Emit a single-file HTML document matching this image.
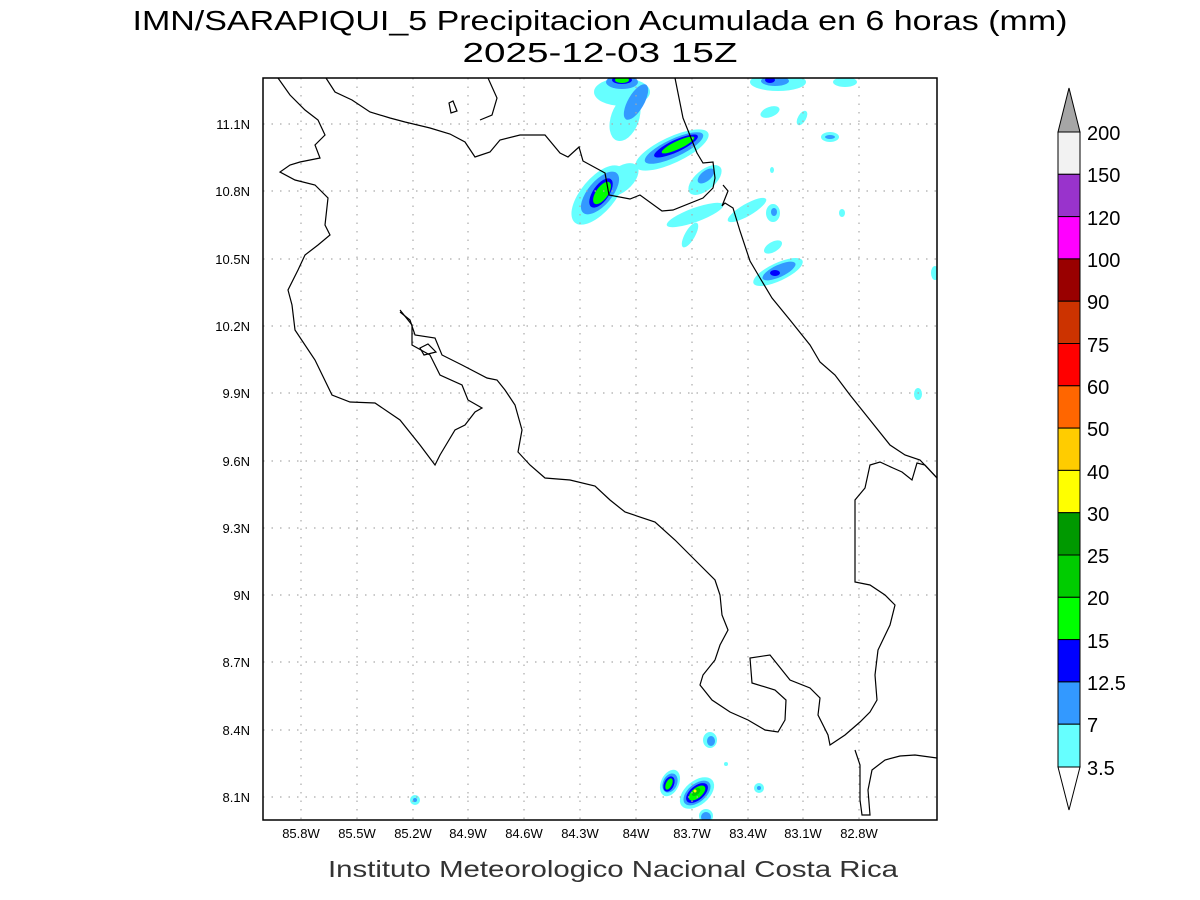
<!DOCTYPE html>
<html><head><meta charset="utf-8"><style>
body{margin:0;background:#fff;}
svg{display:block;font-family:"Liberation Sans",sans-serif;}
</style></head><body>
<svg width="1200" height="900" viewBox="0 0 1200 900" xmlns="http://www.w3.org/2000/svg">
<rect width="1200" height="900" fill="#fff"/>
<text x="600" y="30" font-size="28" text-anchor="middle" fill="#000" textLength="935" lengthAdjust="spacingAndGlyphs">IMN/SARAPIQUI_5 Precipitacion Acumulada en 6 horas (mm)</text>
<text x="600" y="62" font-size="28" text-anchor="middle" fill="#000" textLength="275" lengthAdjust="spacingAndGlyphs">2025-12-03 15Z</text>
<text x="613" y="877" font-size="23" text-anchor="middle" fill="#333" textLength="570" lengthAdjust="spacingAndGlyphs">Instituto Meteorologico Nacional Costa Rica</text>

<clipPath id="c"><rect x="263" y="78" width="674" height="742"/></clipPath>
<g clip-path="url(#c)">
<g>
<ellipse cx="622" cy="92" rx="28" ry="14" fill="#66ffff"/>
<ellipse cx="625" cy="118" rx="14" ry="24" fill="#66ffff" transform="rotate(20 625 118)"/>
<ellipse cx="636" cy="102" rx="8" ry="20" fill="#3399ff" transform="rotate(30 636 102)"/>
<ellipse cx="622" cy="82" rx="16" ry="7" fill="#3399ff"/>
<ellipse cx="622" cy="80" rx="10" ry="4" fill="#0000ff"/>
<ellipse cx="622" cy="80" rx="7" ry="3" fill="#00ff00"/>
<ellipse cx="672" cy="150" rx="40" ry="13" fill="#66ffff" transform="rotate(-25 672 150)"/>
<ellipse cx="674" cy="148" rx="32" ry="9" fill="#3399ff" transform="rotate(-25 674 148)"/>
<ellipse cx="676" cy="146" rx="24" ry="6" fill="#0000ff" transform="rotate(-25 676 146)"/>
<ellipse cx="678" cy="145" rx="18" ry="4" fill="#00ff00" transform="rotate(-25 678 145)"/>
<ellipse cx="598" cy="195" rx="36" ry="17" fill="#66ffff" transform="rotate(-50 598 195)"/>
<ellipse cx="620" cy="180" rx="22" ry="12" fill="#66ffff" transform="rotate(-40 620 180)"/>
<ellipse cx="600" cy="193" rx="26" ry="12" fill="#3399ff" transform="rotate(-50 600 193)"/>
<ellipse cx="601" cy="193" rx="17" ry="8" fill="#0000ff" transform="rotate(-55 601 193)"/>
<ellipse cx="602" cy="193" rx="13" ry="6" fill="#00ff00" transform="rotate(-55 602 193)"/>
<ellipse cx="705" cy="180" rx="20" ry="10" fill="#66ffff" transform="rotate(-40 705 180)"/>
<ellipse cx="706" cy="176" rx="10" ry="5" fill="#3399ff" transform="rotate(-40 706 176)"/>
<ellipse cx="695" cy="215" rx="30" ry="7" fill="#66ffff" transform="rotate(-20 695 215)"/>
<ellipse cx="690" cy="235" rx="14" ry="5" fill="#66ffff" transform="rotate(-60 690 235)"/>
<ellipse cx="747" cy="210" rx="22" ry="6" fill="#66ffff" transform="rotate(-30 747 210)"/>
<ellipse cx="773" cy="213" rx="7" ry="9" fill="#66ffff"/>
<ellipse cx="774" cy="212" rx="3" ry="4" fill="#3399ff"/>
<ellipse cx="773" cy="247" rx="10" ry="5" fill="#66ffff" transform="rotate(-30 773 247)"/>
<ellipse cx="778" cy="272" rx="27" ry="9" fill="#66ffff" transform="rotate(-25 778 272)"/>
<ellipse cx="779" cy="271" rx="18" ry="6" fill="#3399ff" transform="rotate(-25 779 271)"/>
<ellipse cx="775" cy="273" rx="5" ry="3" fill="#0000ff"/>
<ellipse cx="778" cy="82" rx="28" ry="9" fill="#66ffff"/>
<ellipse cx="775" cy="81" rx="14" ry="5" fill="#3399ff"/>
<ellipse cx="770" cy="80" rx="5" ry="3" fill="#0000ff"/>
<ellipse cx="845" cy="82" rx="12" ry="5" fill="#66ffff"/>
<ellipse cx="770" cy="112" rx="10" ry="5" fill="#66ffff" transform="rotate(-20 770 112)"/>
<ellipse cx="802" cy="118" rx="4" ry="8" fill="#66ffff" transform="rotate(30 802 118)"/>
<ellipse cx="830" cy="137" rx="9" ry="5" fill="#66ffff"/>
<ellipse cx="830" cy="137" rx="5" ry="2" fill="#3399ff"/>
<ellipse cx="842" cy="213" rx="3" ry="4" fill="#66ffff"/>
<ellipse cx="935" cy="273" rx="4" ry="7" fill="#66ffff"/>
<ellipse cx="918" cy="394" rx="4" ry="6" fill="#66ffff"/>
<ellipse cx="772" cy="170" rx="2" ry="3" fill="#66ffff"/>
<ellipse cx="670" cy="783" rx="9" ry="14" fill="#66ffff" transform="rotate(25 670 783)"/>
<ellipse cx="670" cy="783" rx="7" ry="10" fill="#3399ff" transform="rotate(25 670 783)"/>
<ellipse cx="669" cy="784" rx="5" ry="8" fill="#0000ff" transform="rotate(25 669 784)"/>
<ellipse cx="669" cy="784" rx="3" ry="6" fill="#00ff00" transform="rotate(25 669 784)"/>
<ellipse cx="697" cy="793" rx="12" ry="20" fill="#66ffff" transform="rotate(50 697 793)"/>
<ellipse cx="697" cy="793" rx="9" ry="16" fill="#3399ff" transform="rotate(50 697 793)"/>
<ellipse cx="697" cy="793" rx="7" ry="13" fill="#0000ff" transform="rotate(50 697 793)"/>
<ellipse cx="697" cy="793" rx="5" ry="10" fill="#00ff00" transform="rotate(50 697 793)"/>
<ellipse cx="696" cy="792" rx="3" ry="5" fill="#00cc00" transform="rotate(50 696 792)"/>
<circle cx="695" cy="791" r="1.5" fill="#ffff00"/>
<ellipse cx="710" cy="740" rx="7" ry="8" fill="#66ffff"/>
<ellipse cx="711" cy="741" rx="4" ry="5" fill="#3399ff"/>
<ellipse cx="706" cy="816" rx="7" ry="7" fill="#66ffff"/>
<ellipse cx="706" cy="817" rx="5" ry="5" fill="#3399ff"/>
<circle cx="726" cy="764" r="2" fill="#66ffff"/>
<ellipse cx="759" cy="788" rx="5" ry="5" fill="#66ffff"/>
<circle cx="759" cy="788" r="2" fill="#3399ff"/>
<ellipse cx="415" cy="800" rx="5" ry="5" fill="#66ffff"/>
<circle cx="415" cy="800" r="2" fill="#3399ff"/>
</g>
<g stroke="#aaa" stroke-width="1.2" stroke-dasharray="1.5,7">
<line x1="301" y1="78" x2="301" y2="820"/><line x1="357" y1="78" x2="357" y2="820"/><line x1="413" y1="78" x2="413" y2="820"/><line x1="468" y1="78" x2="468" y2="820"/><line x1="524" y1="78" x2="524" y2="820"/><line x1="580" y1="78" x2="580" y2="820"/><line x1="636" y1="78" x2="636" y2="820"/><line x1="692" y1="78" x2="692" y2="820"/><line x1="748" y1="78" x2="748" y2="820"/><line x1="803" y1="78" x2="803" y2="820"/><line x1="859" y1="78" x2="859" y2="820"/>
<line x1="263" y1="124" x2="937" y2="124"/><line x1="263" y1="191" x2="937" y2="191"/><line x1="263" y1="259" x2="937" y2="259"/><line x1="263" y1="326" x2="937" y2="326"/><line x1="263" y1="393" x2="937" y2="393"/><line x1="263" y1="461" x2="937" y2="461"/><line x1="263" y1="528" x2="937" y2="528"/><line x1="263" y1="595" x2="937" y2="595"/><line x1="263" y1="662" x2="937" y2="662"/><line x1="263" y1="730" x2="937" y2="730"/><line x1="263" y1="797" x2="937" y2="797"/>
</g>
<g fill="none" stroke="#000" stroke-width="1.2">
<polyline points="278,78 290,95 305,110 318,120 325,135 315,145 320,158 300,162 290,165 280,172 295,180 315,185 328,198 325,225 330,235 318,245 305,255 298,270 288,290 292,305 295,330 315,360 332,395 350,402 375,403 400,420 420,445 435,465 440,455 455,430 465,425 475,412 482,408 468,400 462,385 440,375 430,355 412,345 412,325 400,310"/>
<polyline points="400,312 410,320 415,335 435,338 442,355 462,365 487,378 497,380 505,390 515,405 522,430 518,452 530,465 545,478 570,480 595,486 610,500 625,512 655,522 675,540 700,565 715,580 720,595 722,615 728,630 720,645 715,660 703,675 700,685 712,700 730,712 748,720 765,730 778,732 785,720 786,700 775,690 752,683 750,658 770,655 790,680 810,688 820,698 818,715 828,735 830,745 845,735 860,722 870,712 877,700 875,675 878,650 890,625 895,605 885,595 870,585 855,582 855,500 865,488 870,465 880,462 893,468 902,472 912,480 917,463 925,465 937,478"/>
<polygon points="420,348 428,344 436,352 424,355"/>
<polyline points="326,78 335,92 352,100 370,112 390,118 405,122 430,128 450,134 465,142 475,157 490,152 500,140 520,135 545,135 560,153 568,157 579,147 583,161 605,173 609,195 630,199 640,195 662,211 673,210 703,198 713,188 715,178 713,162 703,163 697,153 683,118 675,78"/>
<polyline points="723,185 728,191 722,206 725,203 733,208 740,231 750,261 760,278 772,298 790,320 810,345 820,362 835,375 850,395 870,420 890,445 905,455 920,460 937,478"/>
<polygon points="449,103 453,101 457,111 451,113"/>
<polyline points="488,78 497,98 492,115 480,120"/>
<polyline points="855,750 860,765 860,800 862,815 870,815 868,790 872,770 885,760 900,756 915,755 937,758"/>
</g>
</g>
<rect x="263" y="78" width="674" height="742" fill="none" stroke="#000" stroke-width="1.5"/>
<g font-size="13" fill="#000" text-anchor="middle">
<text x="301" y="838">85.8W</text><text x="357" y="838">85.5W</text><text x="413" y="838">85.2W</text><text x="468" y="838">84.9W</text><text x="524" y="838">84.6W</text><text x="580" y="838">84.3W</text><text x="636" y="838">84W</text><text x="692" y="838">83.7W</text><text x="748" y="838">83.4W</text><text x="803" y="838">83.1W</text><text x="859" y="838">82.8W</text>
</g>
<g font-size="13" fill="#000" text-anchor="end">
<text x="250" y="129">11.1N</text><text x="250" y="196">10.8N</text><text x="250" y="264">10.5N</text><text x="250" y="331">10.2N</text><text x="250" y="398">9.9N</text><text x="250" y="466">9.6N</text><text x="250" y="533">9.3N</text><text x="250" y="600">9N</text><text x="250" y="667">8.7N</text><text x="250" y="735">8.4N</text><text x="250" y="802">8.1N</text>
</g>
<g stroke="#000" stroke-width="1">
<polygon points="1058,132 1080,132 1069,88" fill="#a6a6a6"/>
<rect x="1058" y="132" width="22" height="42.3" fill="#f2f2f2"/>
<rect x="1058" y="174.3" width="22" height="42.3" fill="#9933cc"/>
<rect x="1058" y="216.6" width="22" height="42.3" fill="#ff00ff"/>
<rect x="1058" y="258.9" width="22" height="42.3" fill="#990000"/>
<rect x="1058" y="301.2" width="22" height="42.3" fill="#cc3300"/>
<rect x="1058" y="343.5" width="22" height="42.3" fill="#ff0000"/>
<rect x="1058" y="385.8" width="22" height="42.3" fill="#ff6600"/>
<rect x="1058" y="428.1" width="22" height="42.3" fill="#ffcc00"/>
<rect x="1058" y="470.4" width="22" height="42.3" fill="#ffff00"/>
<rect x="1058" y="512.7" width="22" height="42.3" fill="#009900"/>
<rect x="1058" y="555" width="22" height="42.3" fill="#00cc00"/>
<rect x="1058" y="597.3" width="22" height="42.3" fill="#00ff00"/>
<rect x="1058" y="639.6" width="22" height="42.3" fill="#0000ff"/>
<rect x="1058" y="681.9" width="22" height="42.3" fill="#3399ff"/>
<rect x="1058" y="724.2" width="22" height="42.8" fill="#66ffff"/>
<polygon points="1058,767 1080,767 1069,810" fill="#fff"/>
</g>
<g font-size="20" fill="#000">
<text x="1087" y="140">200</text><text x="1087" y="182">150</text><text x="1087" y="225">120</text><text x="1087" y="267">100</text><text x="1087" y="309">90</text><text x="1087" y="352">75</text><text x="1087" y="394">60</text><text x="1087" y="436">50</text><text x="1087" y="479">40</text><text x="1087" y="521">30</text><text x="1087" y="563">25</text><text x="1087" y="605">20</text><text x="1087" y="648">15</text><text x="1087" y="690">12.5</text><text x="1087" y="732">7</text><text x="1087" y="775">3.5</text>
</g>
</svg>
</body></html>
